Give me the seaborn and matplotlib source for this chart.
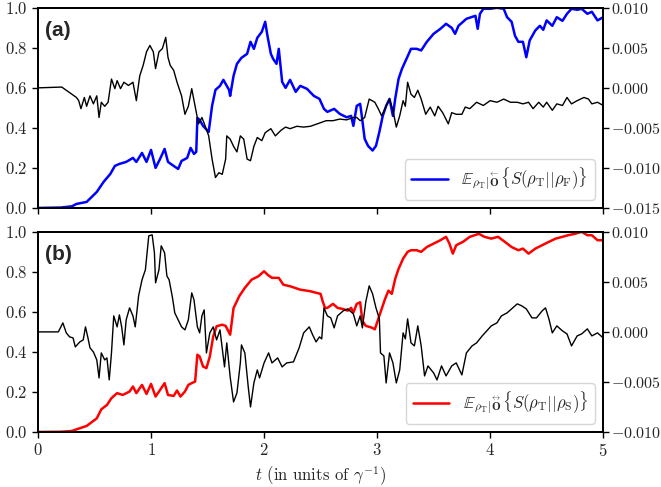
import matplotlib
matplotlib.use("Agg")
import matplotlib.pyplot as plt
import seaborn as sns

# --- panel (a): blue curve (left axis) ---
ta_blue = [0, 0.2, 0.3, 0.34, 0.43, 0.52, 0.58, 0.64, 0.68, 0.72, 0.78, 0.84, 0.87, 0.92, 0.96,
           1.0, 1.04, 1.08, 1.12, 1.15, 1.2, 1.24, 1.27, 1.32, 1.35, 1.38, 1.40, 1.41, 1.43, 1.46,
           1.51, 1.54, 1.57, 1.61, 1.64, 1.69, 1.70, 1.73, 1.76, 1.80, 1.85, 1.88, 1.91, 1.94, 1.98,
           2.01, 2.03, 2.06, 2.08, 2.11, 2.13, 2.16, 2.19, 2.23, 2.28, 2.32, 2.38, 2.44, 2.49, 2.53,
           2.56, 2.62, 2.67, 2.73, 2.77, 2.79, 2.82, 2.85, 2.86, 2.89, 2.92, 2.96, 2.99, 3.02, 3.05,
           3.08, 3.11, 3.14, 3.16, 3.19, 3.22, 3.26, 3.30, 3.35, 3.39, 3.44, 3.50, 3.56, 3.61, 3.66,
           3.69, 3.72, 3.79, 3.87, 3.89, 3.91, 3.94, 4.0, 4.06, 4.12, 4.15, 4.19, 4.22, 4.25, 4.29,
           4.32, 4.35, 4.40, 4.44, 4.47, 4.50, 4.55, 4.59, 4.64, 4.68, 4.72, 4.77, 4.81, 4.86, 4.90,
           4.95, 5.0]
a_blue = [0, 0.002, 0.008, 0.02, 0.03, 0.08, 0.13, 0.17, 0.21, 0.22, 0.23, 0.25, 0.23, 0.275, 0.23,
          0.29, 0.20, 0.245, 0.295, 0.23, 0.21, 0.195, 0.235, 0.25, 0.30, 0.27, 0.28, 0.45, 0.44, 0.41,
          0.38, 0.51, 0.59, 0.61, 0.64, 0.59, 0.56, 0.66, 0.72, 0.75, 0.77, 0.83, 0.795, 0.85, 0.88,
          0.93, 0.86, 0.77, 0.745, 0.72, 0.795, 0.63, 0.60, 0.64, 0.58, 0.61, 0.595, 0.56, 0.545, 0.495,
          0.48, 0.495, 0.47, 0.453, 0.46, 0.41, 0.51, 0.52, 0.48, 0.345, 0.31, 0.287, 0.31, 0.38, 0.46,
          0.51, 0.545, 0.46, 0.545, 0.645, 0.695, 0.745, 0.795, 0.795, 0.787, 0.83, 0.87, 0.895, 0.92, 0.90,
          0.87, 0.91, 0.945, 0.96, 0.895, 0.97, 0.995, 0.995, 1.0, 0.995, 0.953, 0.93, 0.86, 0.83, 0.83,
          0.753, 0.837, 0.887, 0.91, 0.89, 0.937, 0.91, 0.953, 0.935, 0.97, 0.995, 0.99, 0.995, 0.97, 0.98,
          0.937, 0.953]

# --- panel (a): black curve (right axis) ---
ta_black = [0, 0.21, 0.25, 0.30, 0.34, 0.36, 0.38, 0.41, 0.43, 0.46, 0.49, 0.52, 0.54, 0.56, 0.59,
            0.62, 0.65, 0.68, 0.70, 0.73, 0.76, 0.80, 0.84, 0.87, 0.90, 0.93, 0.96, 0.99, 1.02, 1.04,
            1.07, 1.10, 1.13, 1.15, 1.17, 1.20, 1.23, 1.27, 1.30, 1.33, 1.36, 1.39, 1.42, 1.45, 1.48,
            1.51, 1.54, 1.57, 1.60, 1.63, 1.66, 1.67, 1.70, 1.73, 1.76, 1.79, 1.82, 1.85, 1.88, 1.91,
            1.94, 1.98, 2.01, 2.06, 2.10, 2.15, 2.19, 2.23, 2.29, 2.35, 2.41, 2.47, 2.55, 2.61, 2.67,
            2.73, 2.79, 2.82, 2.85, 2.89, 2.92, 2.93, 2.98, 3.01, 3.04, 3.07, 3.11, 3.14, 3.17, 3.20,
            3.23, 3.25, 3.27, 3.30, 3.33, 3.36, 3.39, 3.43, 3.47, 3.51, 3.54, 3.58, 3.63, 3.66, 3.70,
            3.75, 3.78, 3.82, 3.88, 3.94, 4.0, 4.06, 4.12, 4.18, 4.24, 4.29, 4.34, 4.38, 4.43, 4.47,
            4.50, 4.55, 4.59, 4.64, 4.68, 4.72, 4.77, 4.83, 4.87, 4.90, 4.95, 5.0]
a_black = [0.0, 0.0001, -0.0003, -0.0008, -0.0012, -0.0016, -0.0026, -0.0012, -0.0023, -0.0010,
           -0.0020, -0.0010, -0.0037, -0.0018, -0.0023, -0.0018, 0.0011, -0.0001, 0.0009, -0.0001,
           0.0007, 0.0003, 0.0007, -0.0016, 0.0015, 0.0028, 0.0045, 0.0053, 0.0045, 0.0024,
           0.0045, 0.0049, 0.0063, 0.0038, 0.0028, 0.0022, 0.0007, -0.0010, -0.0033, -0.0023,
           -0.0001, -0.0023, -0.0045, -0.0037, -0.0048, -0.0060, -0.0089, -0.0112, -0.0106, -0.0108,
           -0.0089, -0.0060, -0.0064, -0.0073, -0.0080, -0.0060, -0.0064, -0.0089, -0.0091, -0.0073,
           -0.0062, -0.0066, -0.0056, -0.0051, -0.0060, -0.0053, -0.0049, -0.0051, -0.0048, -0.0049,
           -0.0048, -0.0045, -0.0041, -0.0041, -0.0039, -0.0040, -0.0037, -0.0037, -0.0041, -0.0037,
           -0.0020, -0.0014, -0.0018, -0.0026, -0.0035, -0.0026, -0.0014, -0.0028, -0.0049, -0.0035,
           -0.0016, -0.0023, 0.0007, -0.0008, -0.0012, -0.0003, -0.0014, -0.0033, -0.0024, -0.0035,
           -0.0023, -0.0031, -0.0045, -0.0031, -0.0033, -0.0033, -0.0024, -0.0026, -0.0018, -0.0022,
           -0.0016, -0.0018, -0.0014, -0.0018, -0.0018, -0.0020, -0.0018, -0.0026, -0.0018, -0.0024,
           -0.0018, -0.0028, -0.0020, -0.0022, -0.0012, -0.0020, -0.0016, -0.0012, -0.0014, -0.0020,
           -0.0018, -0.0022]

# --- panel (b): red curve (left axis) ---
tb_red = [0, 0.2, 0.3, 0.34, 0.43, 0.52, 0.56, 0.61, 0.65, 0.70, 0.75, 0.81, 0.84, 0.87, 0.92,
          0.96, 1.0, 1.04, 1.08, 1.12, 1.15, 1.20, 1.23, 1.26, 1.30, 1.33, 1.36, 1.39, 1.41, 1.43,
          1.46, 1.49, 1.52, 1.55, 1.58, 1.63, 1.66, 1.70, 1.73, 1.78, 1.83, 1.89, 1.95, 2.0, 2.03,
          2.07, 2.13, 2.17, 2.23, 2.32, 2.41, 2.47, 2.50, 2.52, 2.54, 2.56, 2.61, 2.65, 2.70, 2.74,
          2.77, 2.79, 2.82, 2.85, 2.87, 2.90, 2.95, 2.98, 3.01, 3.04, 3.07, 3.10, 3.13, 3.16, 3.19,
          3.23, 3.27, 3.30, 3.35, 3.39, 3.44, 3.50, 3.56, 3.61, 3.64, 3.67, 3.70, 3.76, 3.82, 3.90,
          3.95, 4.01, 4.07, 4.13, 4.19, 4.25, 4.29, 4.34, 4.40, 4.46, 4.52, 4.58, 4.64, 4.69, 4.75,
          4.81, 4.86, 4.90, 4.95, 5.0]
b_red = [0, 0.001, 0.005, 0.013, 0.03, 0.068, 0.113, 0.135, 0.169, 0.194, 0.185, 0.202, 0.227, 0.194, 0.235,
         0.19, 0.24, 0.177, 0.21, 0.244, 0.185, 0.18, 0.207, 0.177, 0.202, 0.235, 0.244, 0.252, 0.386, 0.377,
         0.327, 0.319, 0.377, 0.477, 0.528, 0.536, 0.53, 0.486, 0.619, 0.678, 0.72, 0.761, 0.778, 0.803, 0.786,
         0.77, 0.77, 0.736, 0.728, 0.711, 0.703, 0.694, 0.69, 0.65, 0.619, 0.62, 0.64, 0.62, 0.614, 0.606,
         0.62, 0.597, 0.64, 0.648, 0.555, 0.53, 0.522, 0.513, 0.564, 0.614, 0.664, 0.706, 0.69, 0.765, 0.815,
         0.866, 0.9, 0.908, 0.908, 0.9, 0.924, 0.941, 0.958, 0.975, 0.941, 0.891, 0.933, 0.95, 0.975, 0.99,
         0.975, 0.966, 0.975, 0.95, 0.924, 0.908, 0.916, 0.891, 0.916, 0.933, 0.95, 0.966, 0.975, 0.983, 0.99,
         1.0, 0.983, 0.983, 0.958, 0.958]

# --- panel (b): black curve (right axis) ---
tb_black = [0, 0.18, 0.22, 0.25, 0.28, 0.31, 0.33, 0.37, 0.40, 0.42, 0.44, 0.46, 0.49, 0.52, 0.54,
            0.56, 0.59, 0.61, 0.63, 0.65, 0.67, 0.70, 0.72, 0.74, 0.76, 0.78, 0.81, 0.84, 0.86, 0.89,
            0.92, 0.95, 0.98, 1.01, 1.03, 1.04, 1.07, 1.09, 1.12, 1.14, 1.16, 1.19, 1.21, 1.24, 1.27,
            1.30, 1.33, 1.36, 1.38, 1.41, 1.43, 1.45, 1.47, 1.49, 1.52, 1.55, 1.58, 1.61, 1.65, 1.67,
            1.70, 1.73, 1.76, 1.79, 1.80, 1.83, 1.86, 1.88, 1.91, 1.94, 1.96, 2.0, 2.04, 2.07, 2.12,
            2.16, 2.20, 2.26, 2.31, 2.35, 2.40, 2.43, 2.46, 2.49, 2.51, 2.53, 2.56, 2.59, 2.62, 2.65,
            2.70, 2.74, 2.79, 2.82, 2.85, 2.87, 2.90, 2.93, 2.96, 2.99, 3.02, 3.03, 3.06, 3.08, 3.11,
            3.14, 3.17, 3.20, 3.23, 3.25, 3.27, 3.30, 3.33, 3.36, 3.39, 3.42, 3.45, 3.50, 3.53, 3.57,
            3.61, 3.66, 3.70, 3.75, 3.79, 3.84, 3.88, 3.93, 3.97, 4.01, 4.06, 4.10, 4.15, 4.19, 4.24,
            4.28, 4.32, 4.37, 4.41, 4.46, 4.49, 4.52, 4.55, 4.59, 4.64, 4.68, 4.72, 4.77, 4.81, 4.86,
            4.90, 4.95, 5.0]
b_black = [0.0, 0.0, 0.0009, -0.0001, -0.0005, -0.0006, -0.0015, -0.0010, -0.0008, 0.0005, -0.0005,
           -0.0016, -0.0020, -0.0028, -0.0046, -0.0021, -0.0028, -0.0026, -0.0048, -0.0021, 0.0016,
           0.0005, 0.0017, 0.0005, -0.0013, 0.0012, 0.0024, 0.0016, 0.0005, 0.0036, 0.0052, 0.0062,
           0.0096, 0.0097, 0.0079, 0.0049, 0.0062, 0.0086, 0.0079, 0.0056, 0.0052, 0.0034, 0.0019,
           0.0012, 0.0005, 0.0002, 0.0012, 0.0039, 0.0032, 0.0005, -0.0001, 0.0016, 0.0022, -0.0021,
           -0.0001, 0.0005, -0.0008, 0.0002, -0.0035, -0.0011, -0.0045, -0.0070, -0.0061, -0.0031,
           -0.0013, -0.0021, -0.0055, -0.0075, -0.0051, -0.0038, -0.0046, -0.0031, -0.0021, -0.0031,
           -0.0026, -0.0035, -0.0031, -0.0030, -0.0016, -0.0001, 0.0005, -0.0003, -0.0010, -0.0005,
           -0.0007, 0.0024, 0.0016, 0.0014, 0.0004, 0.0016, 0.0021, 0.0023, 0.0018, 0.0006, 0.0016,
           0.0004, 0.0030, 0.0046, 0.0038, 0.0024, 0.0013, -0.0021, -0.0024, -0.0051, -0.0021, -0.0031,
           -0.0051, -0.0038, -0.0001, -0.0007, 0.0013, -0.0011, -0.0014, 0.0006, -0.0014, -0.0044,
           -0.0034, -0.0041, -0.0048, -0.0034, -0.0044, -0.0034, -0.0031, -0.0043, -0.0021, -0.0014,
           -0.0011, -0.0004, 0.0001, 0.0006, 0.0009, 0.0016, 0.0019, 0.0023, 0.0028, 0.0026, 0.0023,
           0.0014, 0.0014, 0.0021, 0.0024, 0.0013, -0.0001, 0.0006, 0.0001, -0.0002, -0.0014, -0.0004,
           -0.0002, 0.0003, -0.0004, -0.0001, -0.0006]

label_a = r'$\mathbb{E}_{\rho_{\mathrm{T}}|\overset{\leftarrow}{\mathbf{O}}}\{S(\rho_{\mathrm{T}}||\rho_{\mathrm{F}})\}$'
label_b = r'$\mathbb{E}_{\rho_{\mathrm{T}}|\overset{\leftrightarrow}{\mathbf{O}}}\{S(\rho_{\mathrm{T}}||\rho_{\mathrm{S}})\}$'

sns.set_theme(style="ticks")
plt.rcParams['font.family'] = 'serif'
plt.rcParams['font.serif'] = ['cmr10', 'DejaVu Serif']
plt.rcParams['mathtext.fontset'] = 'cm'
plt.rcParams['axes.formatter.use_mathtext'] = True

fig = plt.figure(figsize=(6.61, 4.87), dpi=100)
ax_a = fig.add_axes([0.0575, 0.573, 0.855, 0.411])
ax_b = fig.add_axes([0.0575, 0.113, 0.855, 0.411])


def make_panel(ax, t_col, v_col, color, label, t_blk, v_blk, rlim, rticks, tag):
    sns.lineplot(x=t_col, y=v_col, ax=ax, color=color, linewidth=1.8, label=label, estimator=None)
    ax2 = ax.twinx()
    sns.lineplot(x=t_blk, y=v_blk, ax=ax2, color='black', linewidth=1.0, estimator=None)
    ax.set_xlim(0, 5)
    ax.set_ylim(0, 1)
    ax.set_yticks([0, 0.2, 0.4, 0.6, 0.8, 1.0])
    ax.set_xticks([0, 1, 2, 3, 4, 5])
    ax2.set_ylim(*rlim)
    ax2.set_yticks(rticks)
    ax2.yaxis.set_major_formatter(plt.FuncFormatter(lambda v, p: f'${v:.3f}$'))
    for a in (ax, ax2):
        a.tick_params(labelsize=12, width=1.0, length=4, color='black')
        for s in a.spines.values():
            s.set_linewidth(1.3)
            s.set_color('black')
    ax2.tick_params(axis='y', pad=2, labelsize=11.5)
    ax.set_xlabel('')
    ax.set_ylabel('')
    ax2.set_ylabel('')
    handles, labels = ax.get_legend_handles_labels()
    ax.get_legend().remove()
    ax2.legend(handles, labels, loc='lower right', fontsize=12, framealpha=0.8,
               edgecolor='#cccccc', handlelength=2.2)
    ax.text(0.012, 0.935, tag, transform=ax.transAxes, fontsize=15, fontweight='bold',
            family=['Liberation Sans', 'DejaVu Sans'], va='top', ha='left')
    return ax2


make_panel(ax_a, ta_blue, a_blue, 'blue', label_a, ta_black, a_black,
           (-0.015, 0.010), [-0.015, -0.010, -0.005, 0.0, 0.005, 0.010], '(a)')
make_panel(ax_b, tb_red, b_red, 'red', label_b, tb_black, b_black,
           (-0.010, 0.010), [-0.010, -0.005, 0.0, 0.005, 0.010], '(b)')

ax_a.tick_params(labelbottom=False)
ax_b.set_xlabel(r'$t$ (in units of $\gamma^{-1}$)', fontsize=12)

fig.savefig('out.png', dpi=100)
